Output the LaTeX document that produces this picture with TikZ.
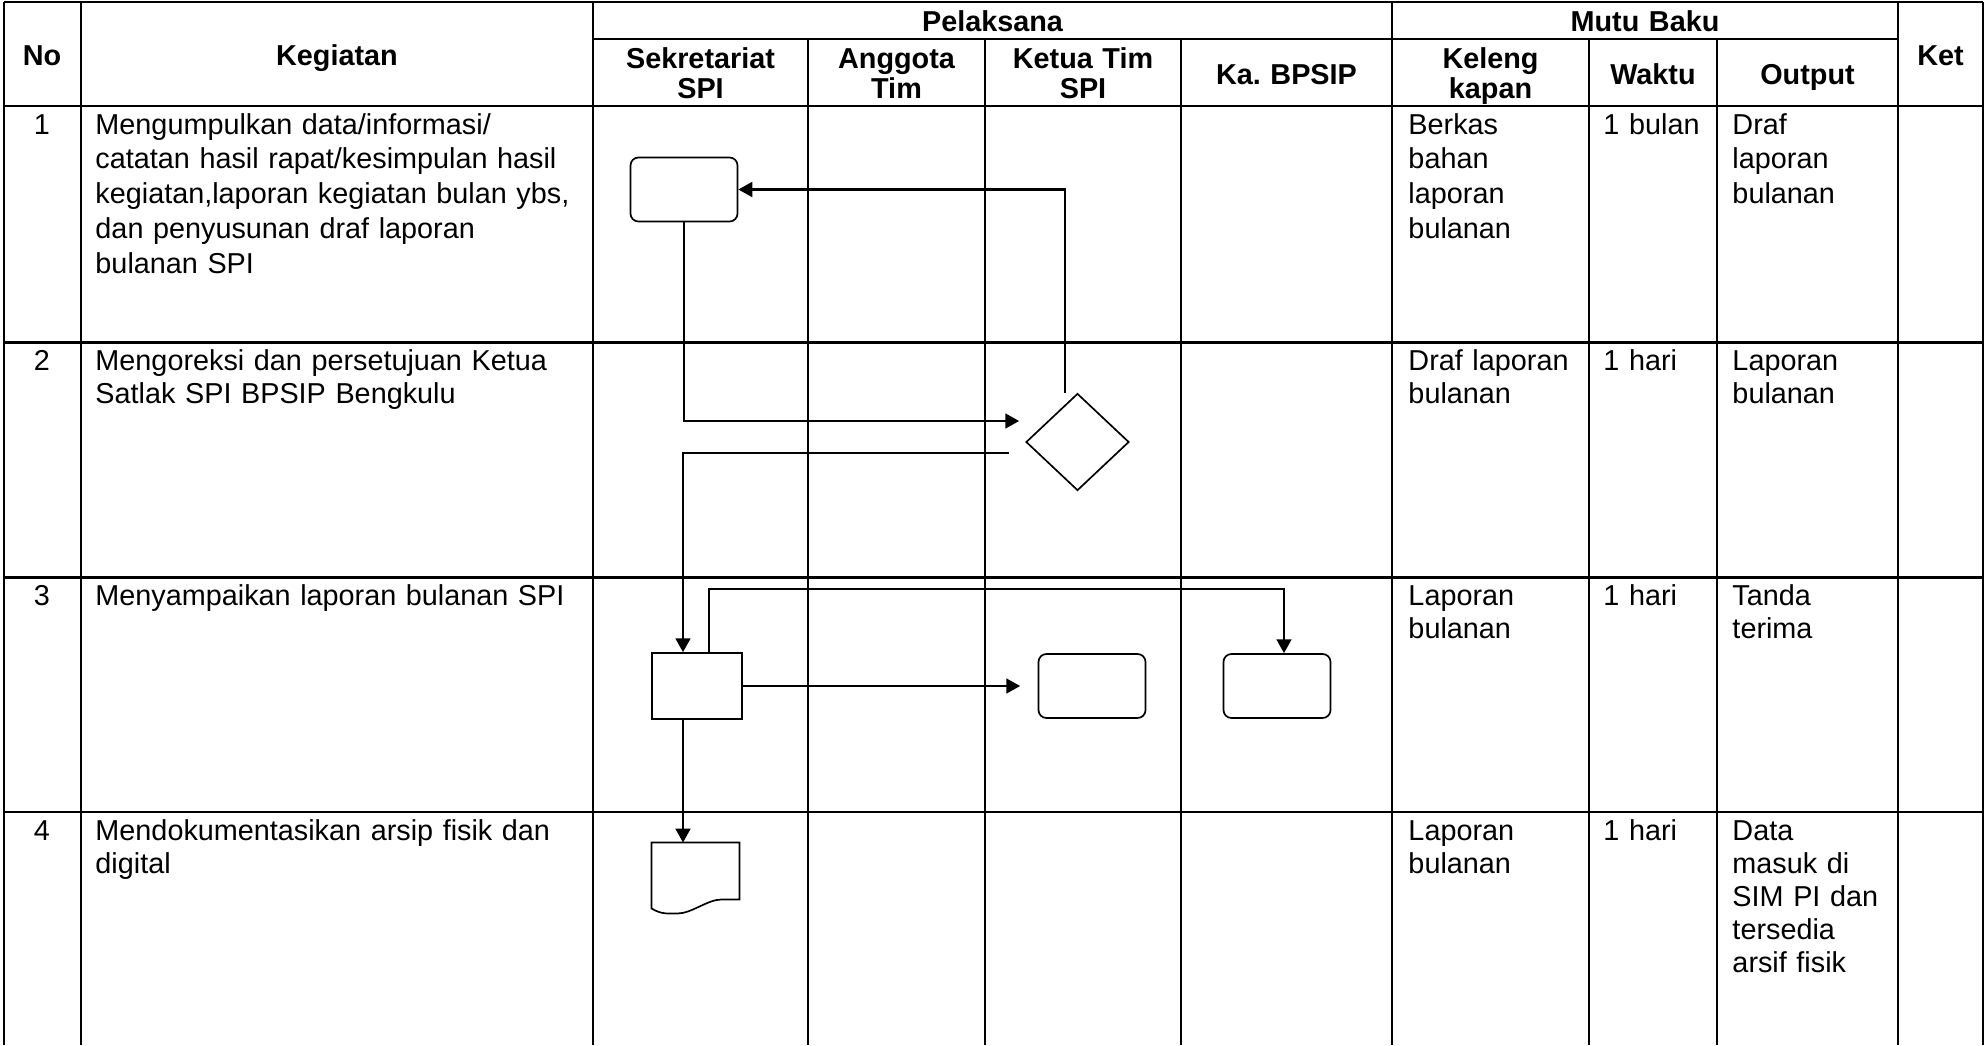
\documentclass[tikz,border=0pt]{standalone}
\usepackage{fontspec}
\setmainfont{Liberation Sans}
\usepackage{tikz}
\usetikzlibrary{arrows.meta, positioning, calc, shapes.geometric}
\frenchspacing
% one unit of the picture is one pixel of the sheet
\newcommand{\px}{0.4167pt}
\newcommand{\entry}[3]{%
  \node[body] (#1) at #2 {#3};
}
\newcommand{\colhead}[3]{%
  \node[head] (#1) at #2 {#3};
}

\begin{document}
\begin{tikzpicture}[x=\px, y=-\px,
    grid/.style={line width=1pt},
    body/.style={anchor=base west, inner sep=0pt, text width=210pt,
      align=left, font=\fontsize{12}{13.8}\selectfont},
    loose/.style={font=\fontsize{12}{14.5}\selectfont},
    head/.style={anchor=base, inner sep=0pt, text width=80pt,
      align=center, font=\bfseries\fontsize{12}{12.5}\selectfont},
    act/.style={draw, rounded corners=3.3pt, line width=0.7pt, inner sep=0pt,
      minimum width=107*\px, minimum height=64*\px},
    flow/.style={line width=0.9pt, -{Triangle[length=5.8pt, width=6.2pt]}}]
    \fill[white] (0,0) rectangle (1984,1045);
    \useasboundingbox (0,0) rectangle (1984,1045);

    % table rules
    \draw[grid] (4,2) -- (1983,2);
    \draw[grid] (593,39) -- (1898,39);
    \foreach \y in {106, 342.5, 577.5, 812}
      \draw[grid] (4,\y) -- (1983,\y);
    \foreach \x in {4, 81, 593, 1392, 1898, 1983}
      \draw[grid] (\x,2) -- (\x,1045);
    \foreach \x in {808, 985, 1181, 1589, 1717}
      \draw[grid] (\x,39) -- (\x,1045);

    % header
    \colhead{hno}{(42,65)}{No}
    \colhead{hkeg}{(337,65)}{Kegiatan}
    \colhead{hpel}{(992.5,31)}{Pelaksana}
    \colhead{hmutu}{(1645,31)}{Mutu Baku}
    \colhead{hket}{(1940.5,65)}{Ket}
    \colhead{hsek}{(700.5,68)}{Sekretariat\\SPI}
    \colhead{hang}{(896.5,68)}{Anggota\\Tim}
    \colhead{hketua}{(1083,68)}{Ketua Tim\\SPI}
    \colhead{hka}{(1286.5,84)}{Ka. BPSIP}
    \colhead{hkel}{(1490.5,68)}{Keleng\\kapan}
    \colhead{hwak}{(1653,84)}{Waktu}
    \colhead{hout}{(1807.5,84)}{Output}

    % rows
    \foreach \i/\y in {1/134, 2/370.5, 3/605.5, 4/840}
      \node[body, anchor=base, text width=20pt, align=center] (no\i) at (42,\y) {\i};
    \foreach \i/\y/\w in {1/134/1 bulan, 2/370.5/1 hari, 3/605.5/1 hari, 4/840/1 hari}
      \node[body] (waktu\i) at (1603,\y) {\w};

    \node[body, loose] (keg1) at (95,134) {Mengumpulkan data/informasi/\\catatan hasil rapat/kesimpulan hasil\\kegiatan,laporan kegiatan bulan ybs,\\dan penyusunan draf laporan\\bulanan SPI};
    \node[body, loose] (alat1) at (1408,134) {Berkas\\bahan\\laporan\\bulanan};
    \node[body, loose] (out1) at (1732,134) {Draf\\laporan\\bulanan};

    \entry{keg2}{(95,370.5)}{Mengoreksi dan persetujuan Ketua\\Satlak SPI BPSIP Bengkulu}
    \entry{keg3}{(95,605.5)}{Menyampaikan laporan bulanan SPI}
    \entry{keg4}{(95,840)}{Mendokumentasikan arsip fisik dan\\digital}

    \entry{alat2}{(1408,370.5)}{Draf laporan\\bulanan}
    \entry{alat3}{(1408,605.5)}{Laporan\\bulanan}
    \entry{alat4}{(1408,840)}{Laporan\\bulanan}

    \entry{out2}{(1732,370.5)}{Laporan\\bulanan}
    \entry{out3}{(1732,605.5)}{Tanda\\terima}
    \entry{out4}{(1732,840)}{Data\\masuk di\\SIM PI dan\\tersedia\\arsif fisik}

    % flow symbols
    \node[act] (draf) at (684,189.5) {};
    \node[diamond, draw, line width=0.7pt, inner sep=0pt,
          minimum width=103*\px, minimum height=97*\px] (cek) at (1077.5,442) {};
    \node[draw, line width=0.7pt, inner sep=0pt,
          minimum width=90*\px, minimum height=66*\px] (lapor) at (697,686) {};
    \node[act] (ketua) at (1092,686) {};
    \node[act] (kabpsip) at (1277,686) {};
    \node[inner sep=0pt, minimum width=87*\px, minimum height=56*\px] (arsip) at (695.5,871) {};
    \draw[line width=0.7pt] (arsip.south east) -- (arsip.north east)
      -- (arsip.north west) -- (arsip.south west) -- ++(0,9)
      .. controls +(10,6) and +(-10,0) .. ++(26,5)
      .. controls +(14,0) and +(-14,0) .. ++(44,-14)
      -- cycle;

    % connectors
    \draw[flow] ($(cek.north)+(-12.5,0)$) |- (draf.east);
    \draw[flow] (draf.south) |- ($(cek.west)+(-6,-21)$);
    \draw[flow] ($(cek.west)+(-16,11)$) -| ($(lapor.north)+(-14,0)$);
    \draw[flow] ($(lapor.north)+(12,0)$) -- ++(0,-63) -| ($(kabpsip.north)+(7,0)$);
    \draw[flow] (lapor.east) -- ($(ketua.west)+(-17.5,0)$);
    \coordinate (turun) at ($(lapor.south)+(-14,0)$);
    \draw[flow] (turun) -- (turun |- arsip.north);
\end{tikzpicture}
\end{document}
